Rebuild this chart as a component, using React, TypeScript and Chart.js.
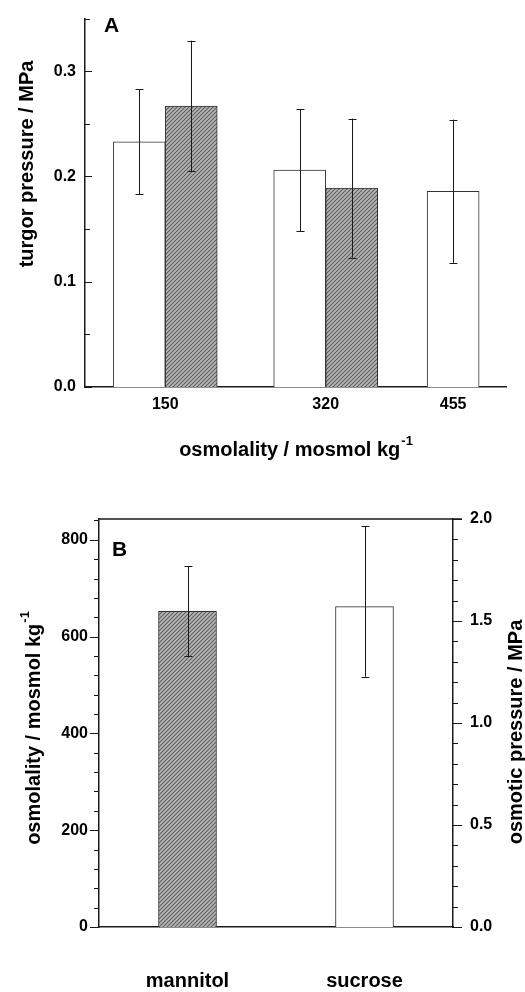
import React, { useEffect, useRef } from "react";
import { Chart, registerables } from "chart.js";

Chart.register(...registerables);

// ---------- Panel A data ----------
const osmolality = [150, 320, 455];
const controlTurgor = [0.233, 0.206, 0.186];
const controlErr = [0.05, 0.058, 0.068];
const treatedTurgor: (number | null)[] = [0.267, 0.189, null];
const treatedErr: (number | null)[] = [0.062, 0.066, null];
const turgorMajorTicks = [0, 0.1, 0.2, 0.3];
const turgorMinorTicks = [0.05, 0.15, 0.25, 0.35];

// ---------- Panel B data ----------
const solutes = ["mannitol", "sucrose"];
const soluteOsmolality = [652, 662];
const soluteErrLow = [560, 517];
const soluteErrHigh = [745, 828];
const osmoMajorTicks = [0, 200, 400, 600, 800];
const osmoMinorTicks = [40, 80, 120, 160, 240, 280, 320, 360, 440, 480, 520, 560, 640, 680, 720, 760, 840];
const pressureMajorTicks = [0, 0.5, 1.0, 1.5, 2.0];
const pressureMinorTicks = [0.1, 0.2, 0.3, 0.4, 0.6, 0.7, 0.8, 0.9, 1.1, 1.2, 1.3, 1.4, 1.6, 1.7, 1.8, 1.9];

const FONT = "'Liberation Sans', Arial, Helvetica, sans-serif";
const INK = "#1a1a1a";

function makeHatch(): CanvasPattern | string {
  const c = document.createElement("canvas");
  c.width = 4;
  c.height = 4;
  const g = c.getContext("2d");
  if (!g) return "#888";
  g.fillStyle = "#b8b8b8";
  g.fillRect(0, 0, 4, 4);
  g.strokeStyle = "#5c5c5c";
  g.lineWidth = 1.1;
  g.beginPath();
  g.moveTo(-1, 5);
  g.lineTo(5, -1);
  g.moveTo(-1, 1);
  g.lineTo(1, -1);
  g.moveTo(3, 5);
  g.lineTo(5, 3);
  g.stroke();
  const p = g.createPattern(c, "repeat");
  return p || "#888";
}

const errorBarPlugin = {
  id: "errorBars",
  afterDatasetsDraw(chart: any) {
    const ctx = chart.ctx;
    chart.data.datasets.forEach((ds: any, di: number) => {
      if (!ds.errLow) return;
      const meta = chart.getDatasetMeta(di);
      const yScale = chart.scales[meta.yAxisID];
      meta.data.forEach((el: any, i: number) => {
        const lo = ds.errLow[i];
        const hi = ds.errHigh[i];
        if (lo == null || hi == null) return;
        const x = Math.round(el.x) + 0.5;
        const y1 = yScale.getPixelForValue(lo);
        const y2 = yScale.getPixelForValue(hi);
        ctx.save();
        ctx.strokeStyle = INK;
        ctx.lineWidth = 1;
        ctx.beginPath();
        ctx.moveTo(x, y1);
        ctx.lineTo(x, y2);
        ctx.moveTo(x - 4, Math.round(y1) + 0.5);
        ctx.lineTo(x + 4, Math.round(y1) + 0.5);
        ctx.moveTo(x - 4, Math.round(y2) + 0.5);
        ctx.lineTo(x + 4, Math.round(y2) + 0.5);
        ctx.stroke();
        ctx.restore();
      });
    });
  },
};

const tickMarksPlugin = {
  id: "tickMarks",
  afterDraw(chart: any, _args: any, opts: any) {
    const ctx = chart.ctx;
    const area = chart.chartArea;
    (opts.marks || []).forEach((m: any) => {
      const scale = chart.scales[m.scale];
      const x0 = m.edge === "left" ? area.left : area.right;
      ctx.save();
      ctx.strokeStyle = INK;
      ctx.lineWidth = 1;
      ctx.beginPath();
      m.values.forEach((v: number) => {
        const y = Math.round(scale.getPixelForValue(v)) + 0.5;
        ctx.moveTo(x0, y);
        ctx.lineTo(x0 + m.dir * m.len, y);
      });
      ctx.stroke();
      ctx.restore();
    });
    if (opts.topBorder) {
      ctx.save();
      ctx.strokeStyle = INK;
      ctx.lineWidth = 1.5;
      ctx.beginPath();
      ctx.moveTo(area.left, area.top);
      ctx.lineTo(area.right + opts.topBorder, area.top);
      ctx.stroke();
      ctx.restore();
    }
  },
};

const textPlugin = {
  id: "texts",
  afterDraw(chart: any, _args: any, opts: any) {
    const ctx = chart.ctx;
    (opts.items || []).forEach((t: any) => {
      ctx.save();
      ctx.translate(t.x, t.y);
      if (t.rotate) ctx.rotate(t.rotate);
      ctx.fillStyle = "#000";
      ctx.font = `bold ${t.size}px ${FONT}`;
      ctx.textBaseline = "middle";
      const w = ctx.measureText(t.text).width;
      let supW = 0;
      const supSize = Math.round(t.size * 0.65);
      if (t.sup) {
        ctx.font = `bold ${supSize}px ${FONT}`;
        supW = ctx.measureText(t.sup).width;
      }
      const total = w + supW + (t.sup ? 1 : 0);
      const start = t.align === "left" ? 0 : -total / 2;
      ctx.font = `bold ${t.size}px ${FONT}`;
      ctx.textAlign = "left";
      ctx.fillText(t.text, start, 0);
      if (t.sup) {
        ctx.font = `bold ${supSize}px ${FONT}`;
        ctx.fillText(t.sup, start + w + 1, -t.size * 0.45);
      }
      ctx.restore();
    });
  },
};

const tickFont = { family: FONT, size: 16, weight: "bold" as const };

function PanelA() {
  const ref = useRef<HTMLCanvasElement>(null);
  useEffect(() => {
    if (!ref.current) return;
    const hatch = makeHatch();
    const chart = new Chart(ref.current, {
      type: "bar",
      data: {
        datasets: [
          {
            label: "control",
            data: osmolality.map((x, i) => ({ x, y: controlTurgor[i] })),
            backgroundColor: "#ffffff",
            borderColor: "#333",
            borderWidth: 1,
            barThickness: 52,
            skipNull: true,
            errLow: controlTurgor.map((v, i) => v - controlErr[i]),
            errHigh: controlTurgor.map((v, i) => v + controlErr[i]),
          } as any,
          {
            label: "treated",
            data: osmolality.map((x, i) => ({ x, y: treatedTurgor[i] })),
            backgroundColor: hatch,
            borderColor: "#333",
            borderWidth: 1,
            barThickness: 52,
            skipNull: true,
            errLow: treatedTurgor.map((v, i) => (v == null ? null : v - (treatedErr[i] as number))),
            errHigh: treatedTurgor.map((v, i) => (v == null ? null : v + (treatedErr[i] as number))),
          } as any,
        ],
      },
      options: {
        animation: false,
        responsive: false,
        layout: { padding: { top: 9, right: 19, left: 0, bottom: 0 } },
        plugins: {
          legend: { display: false },
          tooltip: { enabled: false },
          tickMarks: {
            marks: [
              { scale: "y", edge: "left", dir: 1, len: 7, values: turgorMajorTicks },
              { scale: "y", edge: "left", dir: 1, len: 5, values: turgorMinorTicks },
            ],
          },
          texts: {
            items: [
              { text: "A", x: 104, y: 26, size: 21, align: "left" },
              { text: "turgor pressure / MPa", x: 27, y: 164, size: 20, rotate: -Math.PI / 2 },
              { text: "osmolality / mosmol kg", sup: "-1", x: 296, y: 450, size: 20 },
            ],
          },
        } as any,
        scales: {
          x: {
            type: "linear",
            min: 65,
            max: 511,
            offset: false,
            grid: { display: false, drawTicks: false },
            border: { color: INK, width: 1.5 },
            afterBuildTicks: (s: any) => {
              s.ticks = osmolality.map((v) => ({ value: v }));
            },
            ticks: { font: tickFont, color: "#000", padding: 8, callback: (v: any) => String(v) },
            afterFit: (s: any) => {
              s.height = 83;
            },
          },
          y: {
            min: 0,
            max: 0.35,
            grid: { display: false, drawTicks: false },
            border: { color: INK, width: 1.5 },
            afterBuildTicks: (s: any) => {
              s.ticks = turgorMajorTicks.map((v) => ({ value: v }));
            },
            ticks: { font: tickFont, color: "#000", padding: 9, callback: (v: any) => Number(v).toFixed(1) },
            afterFit: (s: any) => {
              s.width = 85;
            },
          },
        },
      },
      plugins: [errorBarPlugin, tickMarksPlugin, textPlugin],
    });
    return () => chart.destroy();
  }, []);
  return <canvas ref={ref} width={525} height={470} style={{ position: "absolute", left: 0, top: 0 }} />;
}

function PanelB() {
  const ref = useRef<HTMLCanvasElement>(null);
  useEffect(() => {
    if (!ref.current) return;
    const hatch = makeHatch();
    const chart = new Chart(ref.current, {
      type: "bar",
      data: {
        labels: solutes,
        datasets: [
          {
            label: "osmolality",
            data: soluteOsmolality,
            backgroundColor: [hatch, "#ffffff"],
            borderColor: "#333",
            borderWidth: 1,
            barThickness: 58,
            yAxisID: "y",
            errLow: soluteErrLow,
            errHigh: soluteErrHigh,
          } as any,
        ],
      },
      options: {
        animation: false,
        responsive: false,
        layout: { padding: { top: 49, right: 0, left: 0, bottom: 0 } },
        plugins: {
          legend: { display: false },
          tooltip: { enabled: false },
          tickMarks: {
            marks: [
              { scale: "y", edge: "left", dir: -1, len: 9, values: osmoMajorTicks },
              { scale: "y", edge: "left", dir: -1, len: 5, values: osmoMinorTicks },
              { scale: "y1", edge: "right", dir: 1, len: 9, values: pressureMajorTicks },
              { scale: "y1", edge: "right", dir: 1, len: 5, values: pressureMinorTicks },
            ],
            topBorder: 9,
          },
          texts: {
            items: [
              { text: "B", x: 112, y: 80, size: 21, align: "left" },
              { text: "osmolality / mosmol kg", sup: "-1", x: 34, y: 258, size: 20, rotate: -Math.PI / 2 },
              { text: "osmotic pressure / MPa", x: 516, y: 262, size: 20, rotate: -Math.PI / 2 },
            ],
          },
        } as any,
        scales: {
          x: {
            type: "category",
            offset: true,
            grid: { display: false, drawTicks: false },
            border: { color: INK, width: 1.5 },
            ticks: { font: { family: FONT, size: 20, weight: "bold" }, color: "#000", padding: 42 },
            afterFit: (s: any) => {
              s.height = 65;
            },
          },
          y: {
            position: "left",
            min: 0,
            max: 843,
            grid: { display: false, drawTicks: false },
            border: { color: INK, width: 1.5 },
            afterBuildTicks: (s: any) => {
              s.ticks = osmoMajorTicks.map((v) => ({ value: v }));
            },
            ticks: { font: tickFont, color: "#000", padding: 11 },
            afterFit: (s: any) => {
              s.width = 99;
            },
          },
          y1: {
            position: "right",
            min: 0,
            max: 2.0,
            grid: { display: false, drawTicks: false },
            border: { color: INK, width: 1.5 },
            afterBuildTicks: (s: any) => {
              s.ticks = pressureMajorTicks.map((v) => ({ value: v }));
            },
            ticks: { font: tickFont, color: "#000", padding: 17, callback: (v: any) => Number(v).toFixed(1) },
            afterFit: (s: any) => {
              s.width = 72;
            },
          },
        },
      },
      plugins: [errorBarPlugin, tickMarksPlugin, textPlugin],
    });
    return () => chart.destroy();
  }, []);
  return <canvas ref={ref} width={525} height={522} style={{ position: "absolute", left: 0, top: 470 }} />;
}

export default function App() {
  return (
    <div style={{ position: "absolute", left: 0, top: 0, width: 525, height: 992, background: "#fff" }}>
      <PanelA />
      <PanelB />
    </div>
  );
}
